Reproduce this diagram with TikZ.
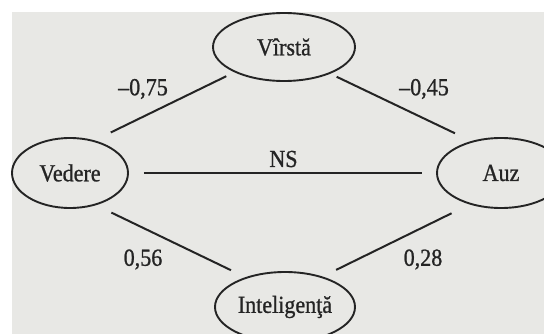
\documentclass[tikz,border=0pt]{standalone}
\usepackage{fontspec}
\setmainfont{Liberation Serif}[FakeBold=0.9, FakeStretch=0.9]
\usetikzlibrary{shapes.geometric}
\definecolor{paper}{RGB}{232,232,229}
\definecolor{ink}{RGB}{36,36,36}
\begin{document}
\begin{tikzpicture}[x=1pt,y=-1pt,
  var/.style={ellipse, draw=ink, line width=1.9pt, inner sep=0pt, text=ink,
    font=\fontsize{24.5}{28}\selectfont},
  link/.style={draw=ink, line width=2pt},
  coef/.style={text=ink, inner sep=0pt, font=\fontsize{24.5}{28}\selectfont}]
\useasboundingbox (0,0) rectangle (544,334);
\clip (0,0) rectangle (544,334);
\fill[paper] (12,12) rectangle (544,334);

% variables
\node[var, minimum width=142pt, minimum height=68pt] (virsta) at (284,47) {Vîrstă};
\node[var, minimum width=116pt, minimum height=70pt] (vedere) at (70,173) {Vedere};
\node[var, minimum width=128pt, minimum height=70pt] (auz) at (501,173) {Auz};
\node[var, minimum width=140pt, minimum height=70pt] (intel) at (285,307) {Inteligenţă};

% correlations
\draw[link, shorten <=18pt, shorten >=9pt] (vedere.53.8) -- (virsta.207.85);
\draw[link, shorten <=7pt, shorten >=18pt] (virsta.330.9) -- (auz.133.6);
\draw[link, shorten <=15pt, shorten >=14pt] (vedere.east) -- (auz.west);
\draw[link, shorten <=17pt, shorten >=16pt] (vedere.309.1) -- (intel.143.1);
\draw[link, shorten <=20pt, shorten >=15pt] (auz.225.4) -- (intel.39.9);

% coefficients
\node[coef] (c1) at (143,89) {–0,75};
\node[coef] (c2) at (424,89) {–0,45};
\node[coef] (c3) at (283.5,159) {NS};
\node[coef] (c4) at (143,259.5) {0,56};
\node[coef] (c5) at (423,259.5) {0,28};
\end{tikzpicture}
\end{document}
